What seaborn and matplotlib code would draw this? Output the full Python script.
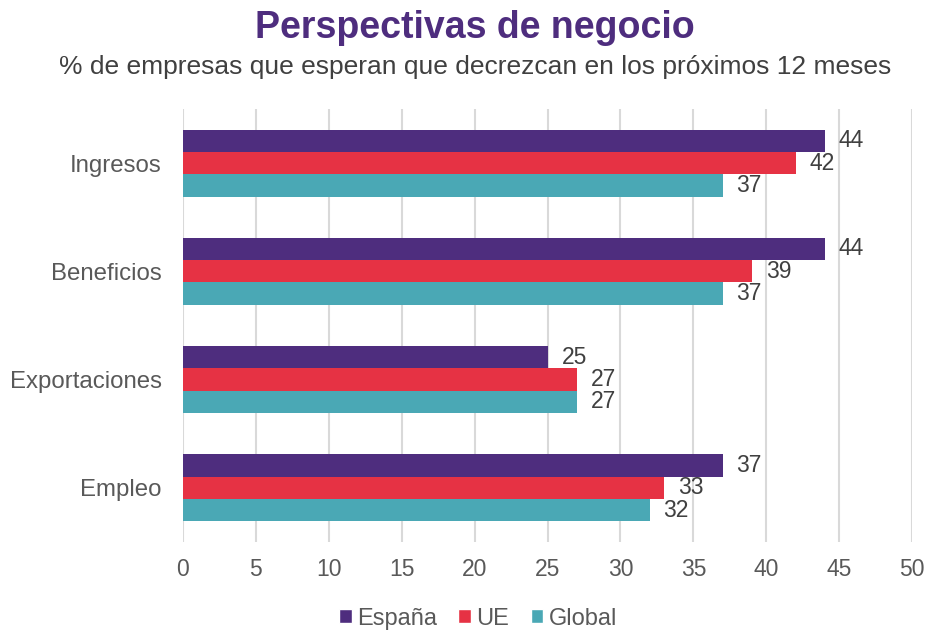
import matplotlib
matplotlib.use("Agg")
import matplotlib.pyplot as plt
from matplotlib.patches import Patch
import pandas as pd
import seaborn as sns

# data
categorias = ["Ingresos", "Beneficios", "Exportaciones", "Empleo"]
espana = [44, 44, 25, 37]
ue = [42, 39, 27, 33]
global_ = [37, 37, 27, 32]
series = ["España", "UE", "Global"]
colores = ["#4E2D7E", "#E63244", "#4AA8B5"]
xticks = [0, 5, 10, 15, 20, 25, 30, 35, 40, 45, 50]

df = pd.DataFrame({
    "categoria": categorias * 3,
    "valor": espana + ue + global_,
    "serie": [s for s in series for _ in categorias],
})

sns.set_theme(style="white")
plt.rcParams["font.family"] = ["Liberation Sans", "DejaVu Sans"]

fig = plt.figure(figsize=(9.28, 6.3), dpi=100)
ax = fig.add_axes([0.197, 0.14, 0.786, 0.687])

sns.barplot(data=df, y="categoria", x="valor", hue="serie", orient="h",
            palette=colores, width=0.62, saturation=1, ax=ax, order=categorias,
            hue_order=series, legend=False, linewidth=0)

for cont in ax.containers:
    ax.bar_label(cont, fmt="%d", padding=10, fontsize=16.5, color="#404040")

ax.set_xlim(0, 50)
ax.set_xticks(xticks)
ax.set_xticklabels([str(t) for t in xticks], fontsize=16.5, color="#595959")
ax.tick_params(axis="y", labelsize=17.3, labelcolor="#595959", length=0, pad=15)
ax.tick_params(axis="x", length=0, pad=12)
ax.set_xlabel("")
ax.set_ylabel("")
ax.grid(axis="x", color="#D9D9D9", linewidth=1.5)
ax.set_axisbelow(True)
for sp in ax.spines.values():
    sp.set_visible(False)

fig.text(0.512, 0.955, "Perspectivas de negocio", ha="center", va="center",
         fontsize=27, fontweight="bold", color="#4E2D7E")
fig.text(0.512, 0.894, "% de empresas que esperan que decrezcan en los próximos 12 meses",
         ha="center", va="center", fontsize=19, color="#404040")

handles = [Patch(facecolor=c, label=s) for s, c in zip(series, colores)]
fig.legend(handles=handles, loc="center", bbox_to_anchor=(0.515, 0.018), ncol=3,
           frameon=False, fontsize=17, handlelength=0.55, handleheight=0.55,
           handletextpad=0.22, columnspacing=0.9, labelcolor="#595959")

fig.savefig("out.png", dpi=100)
